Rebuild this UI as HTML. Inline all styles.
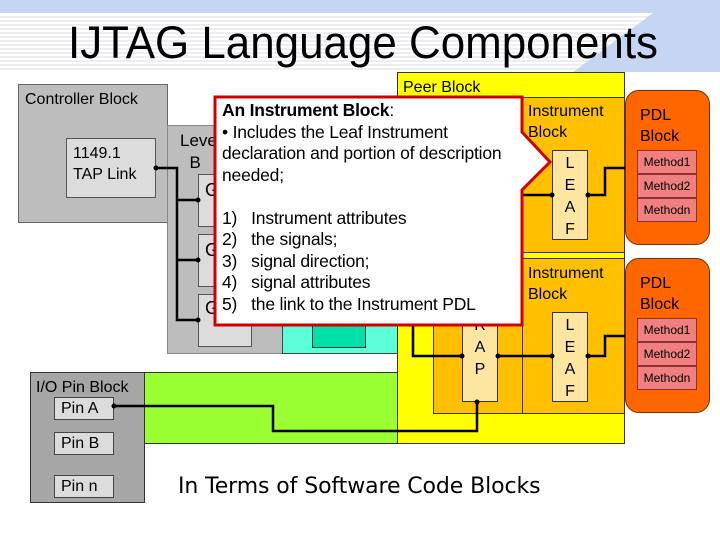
<!DOCTYPE html>
<html><head><meta charset="utf-8"><style>
body{margin:0;width:720px;height:540px;position:relative;overflow:hidden;background:#fff;font-family:"Liberation Sans","DejaVu Sans",sans-serif}
.a{position:absolute;box-sizing:border-box}
.t{font-size:16px;color:#000;line-height:21px}
.pdl{background:#ff6600;border:1px solid #7a3000;border-radius:14px}
.m{position:absolute;left:11px;width:60px;height:24px;background:#f08080;border:1px solid #8a3030;box-sizing:border-box;font-size:12px;line-height:22px;text-align:center}
.leaf{background:#ffe6a0;border:1px solid #333;text-align:center;font-size:16px;line-height:22px;padding-top:2px}
</style></head><body>
<svg class="a" style="left:0;top:0" width="720" height="80">
<rect x="0" y="0" width="720" height="13" fill="#c6d6f2"/>
<g stroke="#e6e9ee" stroke-width="1.5">
<line x1="0" y1="17" x2="720" y2="17"/><line x1="0" y1="21" x2="720" y2="21"/><line x1="0" y1="25" x2="720" y2="25"/><line x1="0" y1="29" x2="720" y2="29"/><line x1="0" y1="33" x2="720" y2="33"/><line x1="0" y1="37" x2="720" y2="37"/><line x1="0" y1="41" x2="720" y2="41"/><line x1="0" y1="45" x2="720" y2="45"/><line x1="0" y1="49" x2="720" y2="49"/><line x1="0" y1="53" x2="720" y2="53"/><line x1="0" y1="57" x2="720" y2="57"/><line x1="0" y1="61" x2="720" y2="61"/><line x1="0" y1="65" x2="720" y2="65"/><line x1="0" y1="69" x2="720" y2="69"/></g>
<polygon points="573,72 720,72 720,13 653,13" fill="#c6d6f2"/>
<text x="363" y="58" text-anchor="middle" font-family="Liberation Sans" font-size="45" textLength="590" lengthAdjust="spacingAndGlyphs">IJTAG Language Components</text>
</svg>

<div class="a" style="left:18px;top:84px;width:150px;height:139px;background:#bdbdbd;border:1px solid #666"></div>
<div class="a t" style="left:25px;top:89px">Controller Block</div>
<div class="a" style="left:66px;top:138px;width:90px;height:60px;background:#dcdcdc;border:1px solid #555"></div>
<div class="a t" style="left:73px;top:143px">1149.1<br>TAP Link</div>

<div class="a" style="left:167px;top:125px;width:116px;height:229px;background:#bdbdbd;border:1px solid #888"></div>
<div class="a t" style="left:180px;top:130px;font-size:17px;line-height:22px">Leve<br>&nbsp;&nbsp;B</div>
<div class="a" style="left:198px;top:174px;width:54px;height:53px;background:#dcdcdc;border:1px solid #555"></div>
<div class="a" style="left:198px;top:234px;width:54px;height:53px;background:#dcdcdc;border:1px solid #555"></div>
<div class="a" style="left:198px;top:294px;width:54px;height:53px;background:#dcdcdc;border:1px solid #555"></div>
<div class="a t" style="left:205px;top:180px;font-size:18px">G</div>
<div class="a t" style="left:205px;top:240px;font-size:18px">G</div>
<div class="a t" style="left:205px;top:298px;font-size:18px">G</div>

<div class="a" style="left:282px;top:200px;width:116px;height:154px;background:#5cffd8;border:1px solid #444"></div>
<div class="a" style="left:312px;top:290px;width:54px;height:58px;background:#00e0a8;border:1px solid #333"></div>

<div class="a" style="left:144px;top:372px;width:254px;height:72px;background:#99ff33;border:1px solid #333"></div>
<div class="a" style="left:30px;top:372px;width:115px;height:131px;background:#a6a6a6;border:1px solid #333"></div>
<div class="a t" style="left:36px;top:377px">I/O Pin Block</div>
<div class="a t" style="left:54px;top:397px;width:60px;height:23px;background:#dcdcdc;border:1px solid #444;padding-left:6px;line-height:22px">Pin A</div>
<div class="a t" style="left:54px;top:432px;width:60px;height:23px;background:#dcdcdc;border:1px solid #444;padding-left:6px;line-height:22px">Pin B</div>
<div class="a t" style="left:54px;top:475px;width:60px;height:23px;background:#dcdcdc;border:1px solid #444;padding-left:6px;line-height:22px">Pin n</div>

<div class="a" style="left:397px;top:72px;width:228px;height:372px;background:#ffff00;border:1px solid #333"></div>
<div class="a t" style="left:403px;top:77px">Peer Block</div>
<div class="a" style="left:433px;top:200px;width:90px;height:214px;background:#ffc000;border:1px solid #333"></div>
<div class="a" style="left:522px;top:97px;width:103px;height:156px;background:#ffc000;border:1px solid #333"></div>
<div class="a" style="left:522px;top:258px;width:103px;height:156px;background:#ffc000;border:1px solid #333"></div>
<div class="a t" style="left:528px;top:101px">Instrument<br>Block</div>
<div class="a t" style="left:528px;top:263px">Instrument<br>Block</div>
<div class="a leaf" style="left:552px;top:150px;width:36px;height:90px">L<br>E<br>A<br>F</div>
<div class="a leaf" style="left:552px;top:312px;width:36px;height:90px">L<br>E<br>A<br>F</div>
<div class="a leaf" style="left:462px;top:290px;width:36px;height:112px">W<br>R<br>A<br>P</div>

<div class="a pdl" style="left:625px;top:90px;width:85px;height:155px"><div class="t" style="position:absolute;left:14px;top:14px">PDL<br>Block</div>
<div class="m" style="top:59px">Method1</div><div class="m" style="top:83px">Method2</div><div class="m" style="top:107px">Methodn</div></div>
<div class="a pdl" style="left:625px;top:258px;width:85px;height:155px"><div class="t" style="position:absolute;left:14px;top:14px">PDL<br>Block</div>
<div class="m" style="top:59px">Method1</div><div class="m" style="top:83px">Method2</div><div class="m" style="top:107px">Methodn</div></div>

<svg class="a" style="left:0;top:0" width="720" height="540">
<g fill="none" stroke="#000" stroke-width="2.5">
<polyline points="156,168 177,168 177,320 198,320"/>
<line x1="177" y1="200" x2="198" y2="200"/><line x1="177" y1="260" x2="198" y2="260"/>
<polyline points="114,406 273,406 273,431 477,431 477,402"/>
<polyline points="413,300 413,356 462,356"/>
<line x1="498" y1="356" x2="552" y2="356"/>
<polyline points="588,195 605,195 605,168 625,168"/>
<polyline points="588,356 605,356 605,336 625,336"/>
<line x1="500" y1="195" x2="552" y2="195"/>
</g>
<g fill="#000"><circle cx="156" cy="168" r="2.5"/><circle cx="198" cy="200" r="2.5"/><circle cx="198" cy="260" r="2.5"/><circle cx="198" cy="320" r="2.5"/><circle cx="114" cy="406" r="2.5"/><circle cx="477" cy="402" r="2.5"/><circle cx="462" cy="356" r="2.5"/><circle cx="498" cy="356" r="2.5"/><circle cx="552" cy="356" r="2.5"/><circle cx="552" cy="195" r="2.5"/><circle cx="588" cy="195" r="2.5"/><circle cx="588" cy="356" r="2.5"/></g>
<path d="M215,97 L522,97 L522,132 L550,162 L522,190 L522,325 L215,325 Z" fill="#fff" stroke="#d00000" stroke-width="3"/>
</svg>
<div class="a" style="left:222px;top:100px;font-size:17.5px;line-height:21.5px;width:300px;white-space:nowrap;letter-spacing:-0.2px">
<b>An Instrument Block</b>:<br>• Includes the Leaf Instrument<br>declaration and portion of description<br>needed;<br><br>
1)&nbsp;&nbsp; Instrument attributes<br>2)&nbsp;&nbsp; the signals;<br>3)&nbsp;&nbsp; signal direction;<br>4)&nbsp;&nbsp; signal attributes<br>5)&nbsp;&nbsp; the link to the Instrument PDL</div>

<div class="a" style="left:178px;top:474px;font-size:22px;font-family:'DejaVu Sans',sans-serif;white-space:nowrap;letter-spacing:-0.1px">In Terms of Software Code Blocks</div>
</body></html>
